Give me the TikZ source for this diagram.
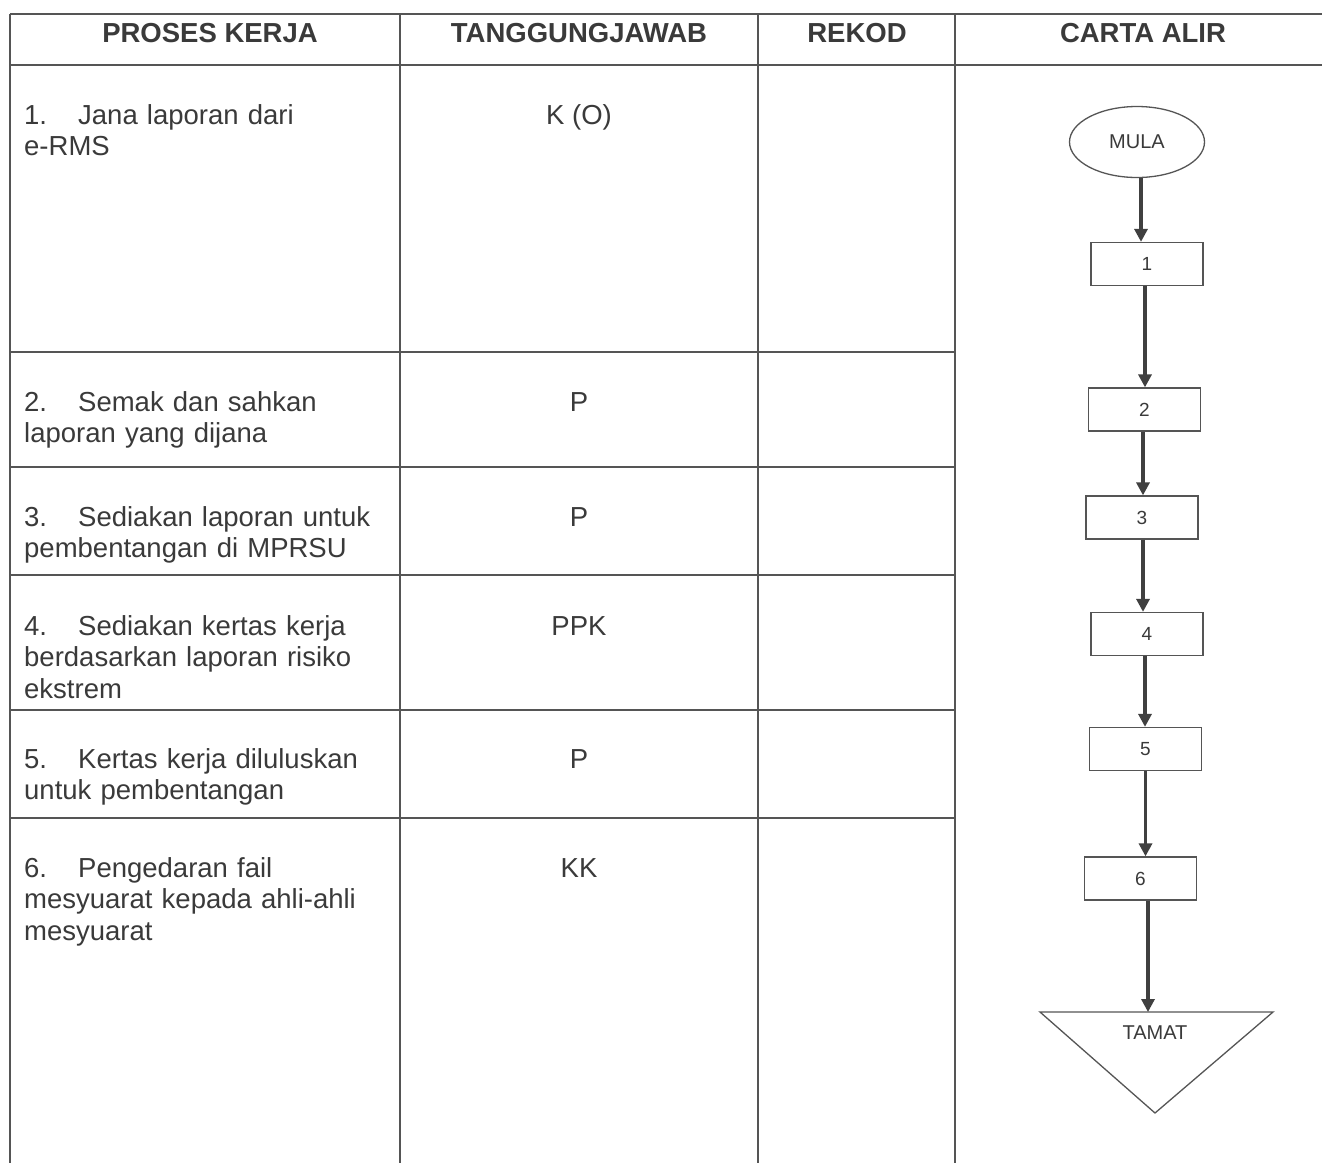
\documentclass[tikz,border=0pt]{standalone}
\usepackage{fontspec}
\setmainfont{Liberation Sans}
\usetikzlibrary{arrows.meta,shapes.geometric}
\definecolor{ink}{HTML}{3A3A3A}
\definecolor{rulec}{HTML}{555555}
\definecolor{arrowc}{HTML}{404040}
\tikzset{
  gridline/.style={draw=rulec, line width=1.2pt},
  hdr/.style={font=\fontsize{27.5}{32}\selectfont\bfseries, text=ink, anchor=base, inner sep=0pt},
  cell/.style={font=\fontsize{27.5}{31.5}\selectfont, text=ink, anchor=base west, inner sep=0pt, text width=370pt, align=left},
  resp/.style={font=\fontsize{27.5}{31.5}\selectfont, text=ink, anchor=base, inner sep=0pt},
  stepbox/.style={draw=rulec, line width=1.3pt, minimum width=112pt, minimum height=43pt, inner sep=0pt, font=\fontsize{19}{22}\selectfont, text=ink},
  term/.style={ellipse, draw=rulec, line width=1.3pt, minimum width=135pt, minimum height=71pt, inner sep=0pt, font=\fontsize{20}{24}\selectfont, text=ink},
  flow/.style={draw=arrowc, line width=3.5pt, -{Triangle[length=13pt,width=13pt]}},
}
\newcommand{\numtab}[1]{\makebox[54pt][l]{#1}}
\begin{document}
\begin{tikzpicture}[x=1pt,y=-1pt]
\useasboundingbox (0,0) rectangle (1322,1163);
\fill[white] (0,0) rectangle (1322,1163);
% table grid
\draw[gridline] (10,14) -- (1322,14);
\draw[gridline] (10,65) -- (1322,65);
\foreach \xx in {10,400,758,955} \draw[gridline] (\xx,14) -- (\xx,1163);
\foreach \yy in {352,467,575,710,818} \draw[gridline] (10,\yy) -- (955,\yy);
% headers
\node[hdr] (h1) at (210,42) {PROSES KERJA};
\node[hdr] (h2) at (579,42) {TANGGUNGJAWAB};
\node[hdr] (h3) at (857,42) {REKOD};
\node[hdr] (h4) at (1143,42) {CARTA ALIR};
% process text
\node[cell] (p1) at (24,124) {\numtab{1.}Jana laporan dari\\e-RMS};
\node[cell] (p2) at (24,411) {\numtab{2.}Semak dan sahkan\\laporan yang dijana};
\node[cell] (p3) at (24,526) {\numtab{3.}Sediakan laporan untuk\\pembentangan di MPRSU};
\node[cell] (p4) at (24,635) {\numtab{4.}Sediakan kertas kerja\\berdasarkan laporan risiko\\ekstrem};
\node[cell] (p5) at (24,768) {\numtab{5.}Kertas kerja diluluskan\\untuk pembentangan};
\node[cell] (p6) at (24,877) {\numtab{6.}Pengedaran fail\\mesyuarat kepada ahli-ahli\\mesyuarat};
% responsibility
\node[resp] (r1) at (579,124) {K (O)};
\node[resp] (r2) at (579,411) {P};
\node[resp] (r3) at (579,526) {P};
\node[resp] (r4) at (579,635) {PPK};
\node[resp] (r5) at (579,768) {P};
\node[resp] (r6) at (579,877) {KK};
% flowchart
\node[term] (mula) at (1137,142) {MULA};
\node[stepbox] (b1) at (1147,264) {1};
\node[stepbox] (b2) at (1144.5,409.5) {2};
\node[stepbox] (b3) at (1142,517.5) {3};
\node[stepbox] (b4) at (1147,634) {4};
\node[stepbox] (b5) at (1145.5,749) {5};
\node[stepbox] (b6) at (1140.5,878.5) {6};
\coordinate (tl) at (1040,1012);
\coordinate (tr) at (1273,1012);
\coordinate (tb) at (1155,1113);
\coordinate (tin) at (1148,1012);
\draw[draw=rulec, line width=1.3pt, line join=miter] (tl) -- (tr) -- (tb) -- cycle;
\node[font=\fontsize{20}{24}\selectfont, text=ink, inner sep=0pt] (tamat) at (1155,1033) {TAMAT};
\draw[flow] ([xshift=4pt]mula.south) -- ([xshift=4pt]mula.south |- b1.north);
\draw[flow] ([xshift=-2pt]b1.south) -- ([xshift=-2pt]b1.south |- b2.north);
\draw[flow] ([xshift=-1.5pt]b2.south) -- ([xshift=-1.5pt]b2.south |- b3.north);
\draw[flow] ([xshift=1pt]b3.south) -- ([xshift=1pt]b3.south |- b4.north);
\draw[flow] ([xshift=-2pt]b4.south) -- ([xshift=-2pt]b4.south |- b5.north);
\draw[flow] (b5.south) -- (b5.south |- b6.north);
\draw[flow] ([xshift=7.5pt]b6.south) -- (tin);
\end{tikzpicture}
\end{document}
